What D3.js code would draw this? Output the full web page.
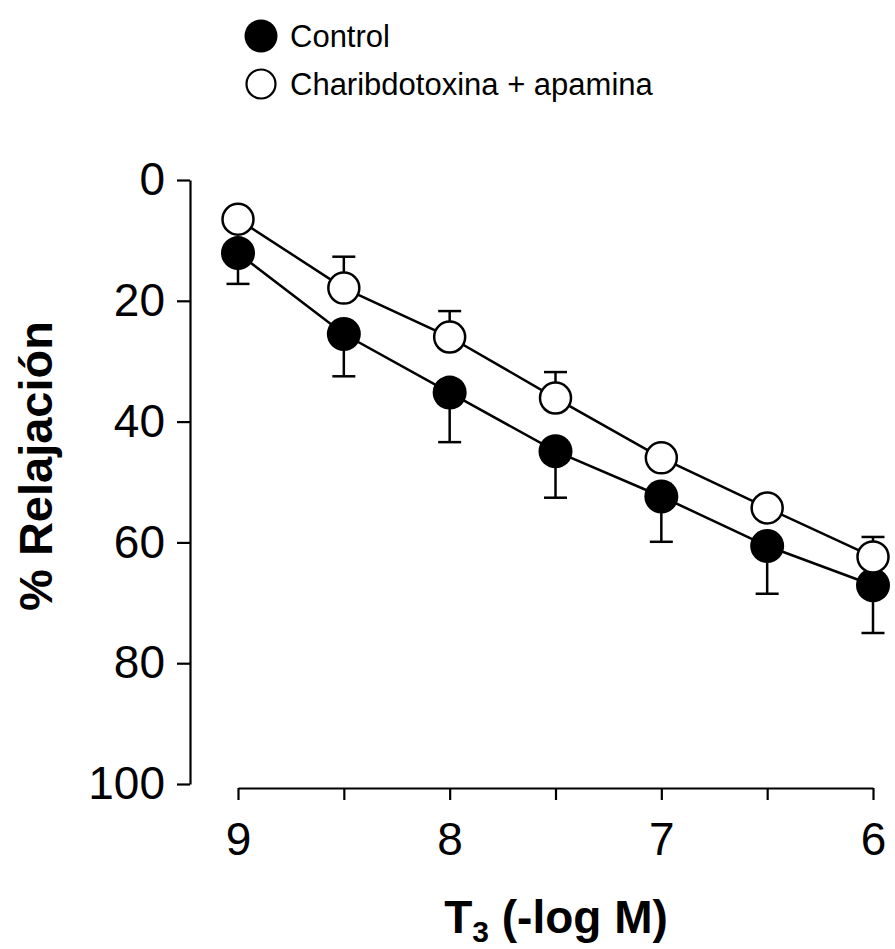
<!DOCTYPE html>
<html>
<head>
<meta charset="utf-8">
<script src="https://cdn.jsdelivr.net/npm/d3@7"></script>
<style>
  body { margin: 0; background: #fff; }
  svg { display: block; font-family: Arial, "Liberation Sans", sans-serif; }
</style>
</head>
<body>
<div id="chart"></div>
<script>
// data
let doses = [9, 8.5, 8, 7.5, 7, 6.5, 6];
let doseLabels = ['9', '', '8', '', '7', '', '6'];
let controlMean = [12.1, 25.5, 35.2, 44.9, 52.4, 60.6, 67.1];
let controlSem = [5.1, 7.0, 8.2, 7.7, 7.5, 7.9, 7.9];
let ctxMean = [6.5, 17.9, 26.0, 36.1, 46.0, 54.3, 62.4];
let ctxSem = [1.5, 5.2, 4.3, 4.3, 1.5, 1.5, 3.3];
let yTicks = [0, 20, 40, 60, 80, 100];
let seriesNames = ['Control', 'Charibdotoxina + apamina'];

let width = 895, height = 949;

let svg = d3.select('#chart').append('svg')
  .attr('width', width)
  .attr('height', height);

// scales
let x = d3.scaleLinear().domain([9, 6]).range([238, 873]);
let y = d3.scaleLinear().domain([0, 100]).range([180, 784]);

// y axis
let yAxis = svg.append('g')
  .attr('transform', 'translate(190,0)')
  .call(d3.axisLeft(y).tickValues(yTicks).tickSize(13).tickSizeOuter(0).tickPadding(12));

// x axis (offset below)
let xAxis = svg.append('g')
  .attr('transform', 'translate(0,788)')
  .call(d3.axisBottom(x).tickValues(doses).tickSize(12).tickSizeOuter(0).tickPadding(22)
    .tickFormat((d, i) => doseLabels[i]));

[yAxis, xAxis].forEach(a => {
  a.selectAll('path, line').attr('stroke', '#000').attr('stroke-width', 2.2);
  a.selectAll('text').attr('fill', '#000').style('font-size', '46px');
});

// axis titles
svg.append('text')
  .attr('transform', 'translate(52,466) rotate(-90)')
  .attr('text-anchor', 'middle')
  .style('font-size', '47px')
  .style('font-weight', 'bold')
  .text('% Relajación');

let xt = svg.append('text')
  .attr('x', 556)
  .attr('y', 933)
  .attr('text-anchor', 'middle')
  .style('font-size', '46px')
  .style('font-weight', 'bold');
xt.append('tspan').text('T');
xt.append('tspan').attr('dy', 9).style('font-size', '30px').text('3');
xt.append('tspan').attr('dy', -9).text(' (-log M)');

let series = [
  {name: seriesNames[0], mean: controlMean, sem: controlSem, dir: 1, fill: '#000', r: 17},
  {name: seriesNames[1], mean: ctxMean, sem: ctxSem, dir: -1, fill: '#fff', r: 15.5}
];

let line = d3.line()
  .x(d => x(d.dose))
  .y(d => y(d.mean));

series.forEach(s => {
  let pts = doses.map((d, i) => ({dose: d, mean: s.mean[i], sem: s.sem[i]}));
  let g = svg.append('g');

  g.append('path')
    .datum(pts)
    .attr('d', line)
    .attr('fill', 'none')
    .attr('stroke', '#000')
    .attr('stroke-width', 2.5);

  // error bars (one side only)
  let err = g.selectAll('.err')
    .data(pts)
    .enter().append('g');
  err.append('line')
    .attr('x1', d => x(d.dose))
    .attr('x2', d => x(d.dose))
    .attr('y1', d => y(d.mean))
    .attr('y2', d => y(d.mean + s.dir * d.sem))
    .attr('stroke', '#000')
    .attr('stroke-width', 2.5);
  err.append('line')
    .attr('x1', d => x(d.dose) - 11.5)
    .attr('x2', d => x(d.dose) + 11.5)
    .attr('y1', d => y(d.mean + s.dir * d.sem))
    .attr('y2', d => y(d.mean + s.dir * d.sem))
    .attr('stroke', '#000')
    .attr('stroke-width', 2.5);

  g.selectAll('circle')
    .data(pts)
    .enter().append('circle')
    .attr('cx', d => x(d.dose))
    .attr('cy', d => y(d.mean))
    .attr('r', s.r)
    .attr('fill', s.fill)
    .attr('stroke', '#000')
    .attr('stroke-width', s.fill === '#000' ? 0 : 2.5);
});

// legend
let legend = svg.selectAll('.legend')
  .data(series)
  .enter().append('g')
  .attr('class', 'legend')
  .attr('transform', (d, i) => `translate(261, ${36 + i * 48})`);

legend.append('circle')
  .attr('r', d => d.fill === '#000' ? 16.5 : 14.5)
  .attr('fill', d => d.fill)
  .attr('stroke', '#000')
  .attr('stroke-width', d => d.fill === '#000' ? 0 : 2.2);

legend.append('text')
  .attr('x', 29)
  .attr('y', 11)
  .style('font-size', '31px')
  .text(d => d.name);
</script>
</body>
</html>
